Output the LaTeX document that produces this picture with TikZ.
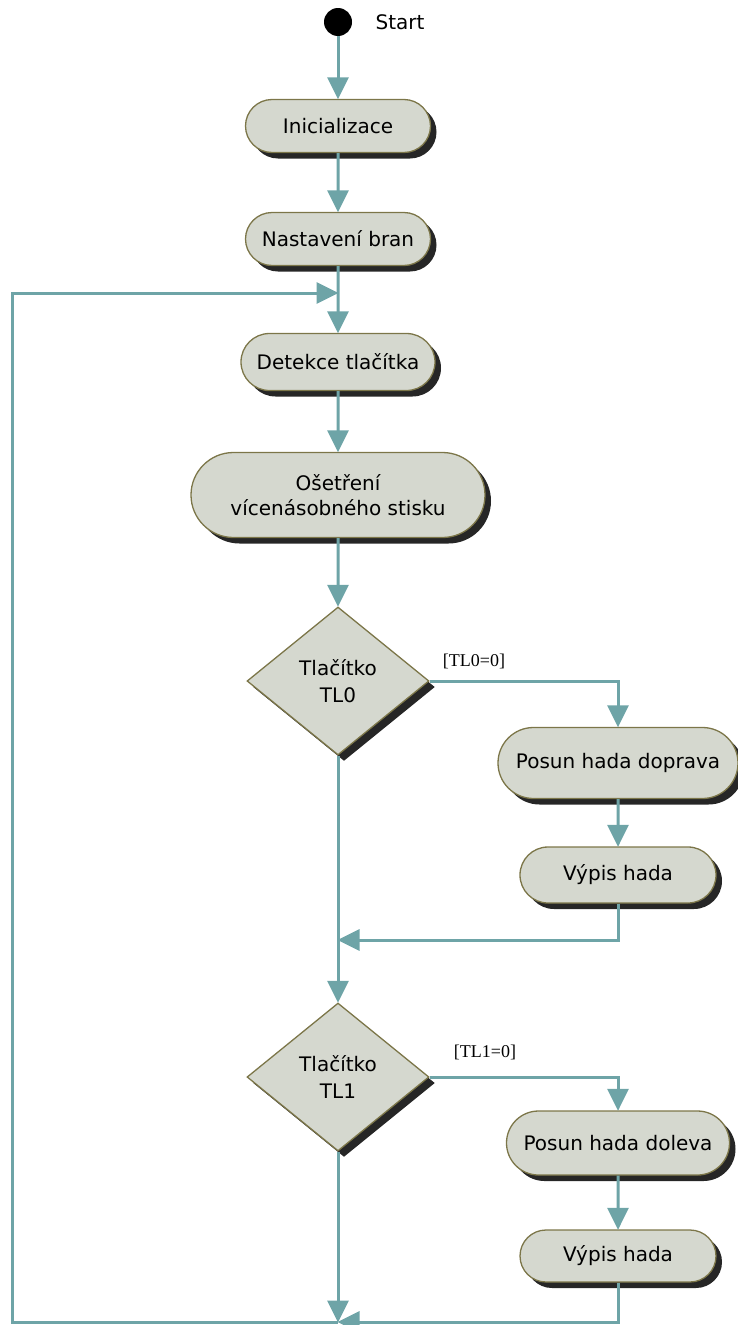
\documentclass[tikz,border=0pt]{standalone}
\usepackage{fontspec}
\setmainfont{DejaVu Sans}
\newfontfamily\guardfont{Liberation Serif}
\usetikzlibrary{shapes.misc,shapes.geometric,arrows.meta,shadows}
\definecolor{boxfill}{HTML}{D5D8CF}
\definecolor{boxline}{HTML}{7C7649}
\definecolor{flow}{HTML}{6EA4A7}
\tikzset{
  act/.style={rounded rectangle, draw=boxline, line width=1.3pt, fill=boxfill,
    inner sep=0pt, align=center, font=\fontsize{20}{25}\selectfont,
    drop shadow={shadow xshift=6pt, shadow yshift=-6pt, fill=black, opacity=0.85}},
  decision/.style={diamond, draw=boxline, line width=1.3pt, fill=boxfill,
    inner sep=0pt, aspect=1.23, minimum width=182pt, minimum height=148pt,
    align=center, font=\fontsize{20}{27}\selectfont,
    drop shadow={shadow xshift=6pt, shadow yshift=-6pt, fill=black, opacity=0.85}},
  flowline/.style={draw=flow, line width=3pt},
  arr/.style={flowline, -{Triangle[length=22pt, width=21pt]}, shorten >=-0.5pt},
  guard/.style={font=\guardfont\fontsize{18}{20}\selectfont, inner sep=0pt}
}
\begin{document}
\begin{tikzpicture}[x=1pt, y=-1pt]
  \useasboundingbox (0,0) rectangle (738,1325);

  % start
  \node[circle, fill=black, minimum size=28pt, inner sep=0pt] (start) at (338,22) {};
  \node[font=\fontsize{20}{24}\selectfont, inner sep=0pt] (startlbl) at (400,22) {Start};

  % main column
  \node[act, minimum width=185pt, minimum height=53pt] (init) at (338,126) {Inicializace};
  \node[act, minimum width=185pt, minimum height=53pt] (nast) at (338,239) {Nastavení bran};
  \node[act, minimum width=194pt, minimum height=57pt] (det) at (338,362) {Detekce tlačítka};
  \node[act, minimum width=294pt, minimum height=85pt] (oset) at (338,495) {Ošetření\\vícenásobného stisku};
  \node[decision] (tl0) at (338,681) {Tlačítko\\TL0};
  \node[decision] (tl1) at (338,1077) {Tlačítko\\TL1};

  % right branches
  \node[act, minimum width=240pt, minimum height=71pt] (posR) at (618,763) {Posun hada doprava};
  \node[act, minimum width=196pt, minimum height=56pt] (vypR) at (618,875) {Výpis hada};
  \node[act, minimum width=223pt, minimum height=64pt] (posL) at (618,1143) {Posun hada doleva};
  \node[act, minimum width=196pt, minimum height=52pt] (vypL) at (618,1256) {Výpis hada};

  % guards
  \node[guard] (g0) at (474,661) {[TL0=0]};
  \node[guard] (g1) at (485,1052) {[TL1=0]};

  % junction points
  \coordinate (j0) at (338,293);
  \coordinate (j1) at (338,940);
  \coordinate (j2) at (338,1322);
  \coordinate (cbl) at (12,1322);
  \coordinate (ctl) at (12,293);

  % connectors
  \draw[arr] (start) -- (init);
  \draw[arr] (init) -- (nast);
  \draw[arr] (nast) -- (det);
  \draw[arr] (det) -- (oset);
  \draw[arr] (oset) -- (tl0.north);
  \draw[arr] (tl0.east) -| (posR.north);
  \draw[arr] (posR) -- (vypR);
  \draw[arr] (vypR.south) |- (j1);
  \draw[arr] (tl0.south) -- (tl1.north);
  \draw[arr] (tl1.east) -| (posL.north);
  \draw[arr] (posL) -- (vypL);
  \draw[arr] (vypL.south) |- (j2);
  \draw[arr] (tl1.south) -- (j2);
  \draw[arr] (j2) -- (cbl) -- (ctl) -- (j0);
\end{tikzpicture}
\end{document}
